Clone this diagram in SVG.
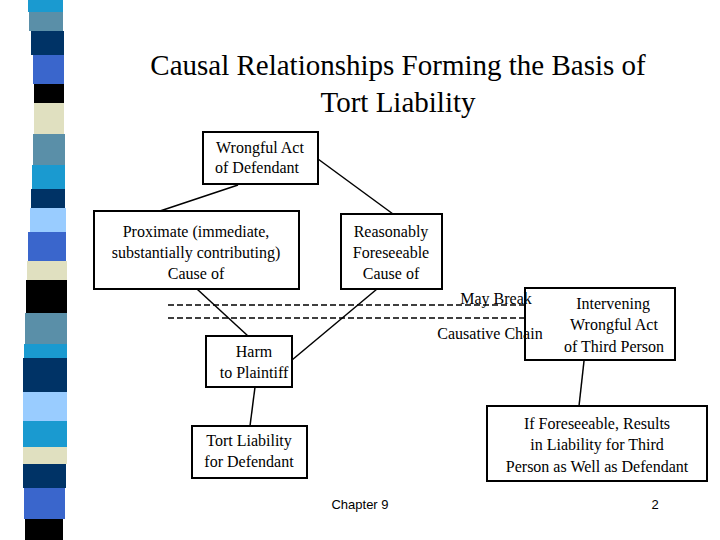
<svg xmlns="http://www.w3.org/2000/svg" width="720" height="540" viewBox="0 0 720 540">
<style>
text{font-family:"Liberation Serif",serif;fill:#000}
.t{font-size:16px;text-anchor:middle}
.b{fill:#fff;stroke:#000;stroke-width:2}
.l{stroke:#000;stroke-width:1.5;fill:none}
.d{stroke:#000;stroke-width:1.5;stroke-dasharray:6,3}
</style>
<rect width="720" height="540" fill="#fff"/>
<g id="stripe">
<rect x="28" y="0" width="35" height="12" fill="#1a9ad0"/>
<rect x="29" y="12" width="34" height="19" fill="#5a8fa8"/>
<rect x="31" y="31" width="33" height="24" fill="#003366"/>
<rect x="33" y="55" width="31" height="29" fill="#3a66cc"/>
<rect x="34" y="84" width="30" height="19" fill="#000"/>
<rect x="34" y="103" width="30" height="31" fill="#e0e0c0"/>
<rect x="33" y="134" width="32" height="31" fill="#5a8fa8"/>
<rect x="32" y="165" width="33" height="24" fill="#1a9ad0"/>
<rect x="31" y="189" width="34" height="19" fill="#003366"/>
<rect x="30" y="208" width="36" height="24" fill="#99ccff"/>
<rect x="28" y="232" width="38" height="29" fill="#3a66cc"/>
<rect x="27" y="261" width="40" height="19" fill="#e0e0c0"/>
<rect x="26" y="280" width="41" height="33" fill="#000"/>
<rect x="25" y="313" width="42" height="31" fill="#5a8fa8"/>
<rect x="24" y="344" width="43" height="14" fill="#1a9ad0"/>
<rect x="23" y="358" width="44" height="34" fill="#003366"/>
<rect x="23" y="392" width="44" height="29" fill="#99ccff"/>
<rect x="23" y="421" width="44" height="26" fill="#1a9ad0"/>
<rect x="23" y="447" width="44" height="17" fill="#e0e0c0"/>
<rect x="23" y="464" width="43" height="24" fill="#003366"/>
<rect x="24" y="488" width="41" height="31" fill="#3a66cc"/>
<rect x="25" y="519" width="38" height="21" fill="#000"/>
</g>
<g id="title">
<text x="398" y="75" font-size="29" text-anchor="middle">Causal Relationships Forming the Basis of</text>
<text x="398" y="112" font-size="29" text-anchor="middle">Tort Liability</text>
</g>
<g id="connectors">
<line class="d" x1="168" y1="305" x2="528" y2="305"/>
<line class="d" x1="168" y1="318" x2="548" y2="318"/>
<line class="l" x1="238" y1="185" x2="160" y2="211"/>
<line class="l" x1="318" y1="159" x2="393" y2="214"/>
<line class="l" x1="197" y1="289" x2="248" y2="336"/>
<line class="l" x1="377" y1="289" x2="292" y2="360"/>
<line class="l" x1="255" y1="387" x2="250" y2="426"/>
<line class="l" x1="584" y1="361" x2="579" y2="406"/>
</g>
<g id="n1"><rect class="b" x="203" y="132" width="115" height="52"/><text class="t" x="260" y="153">Wrongful Act</text><text class="t" x="257" y="173">of Defendant</text></g>
<g id="n2"><rect class="b" x="94" y="211" width="205" height="78"/><text class="t" x="196" y="237">Proximate (immediate,</text><text class="t" x="196" y="258">substantially contributing)</text><text class="t" x="196" y="279">Cause of</text></g>
<g id="n3"><rect class="b" x="341" y="214" width="101" height="75"/><text class="t" x="391" y="237">Reasonably</text><text class="t" x="391" y="258">Foreseeable</text><text class="t" x="391" y="279">Cause of</text></g>
<g id="n4"><rect class="b" x="206" y="336" width="86" height="51"/><text class="t" x="254" y="357">Harm</text><text class="t" x="254" y="378">to Plaintiff</text></g>
<g id="n5"><rect class="b" x="525" y="288" width="150" height="72"/><text class="t" x="613" y="309">Intervening</text><text class="t" x="614" y="330">Wrongful Act</text><text class="t" x="614" y="352">of Third Person</text></g>
<g id="labels"><text class="t" x="496" y="304">May Break</text><text class="t" x="490" y="339">Causative Chain</text></g>
<g id="n6"><rect class="b" x="192" y="426" width="115" height="52"/><text class="t" x="249" y="446">Tort Liability</text><text class="t" x="249" y="467">for Defendant</text></g>
<g id="n7"><rect class="b" x="487" y="406" width="220" height="75"/><text class="t" x="597" y="429">If Foreseeable, Results</text><text class="t" x="597" y="450">in Liability for Third</text><text class="t" x="597" y="472">Person as Well as Defendant</text></g>
<g id="footer"><text x="360" y="509" font-size="13" text-anchor="middle" style="font-family:'Liberation Sans Narrow','Liberation Sans',sans-serif">Chapter 9</text><text x="655" y="509" font-size="13" text-anchor="middle" style="font-family:'Liberation Sans',sans-serif">2</text></g>
</svg>
